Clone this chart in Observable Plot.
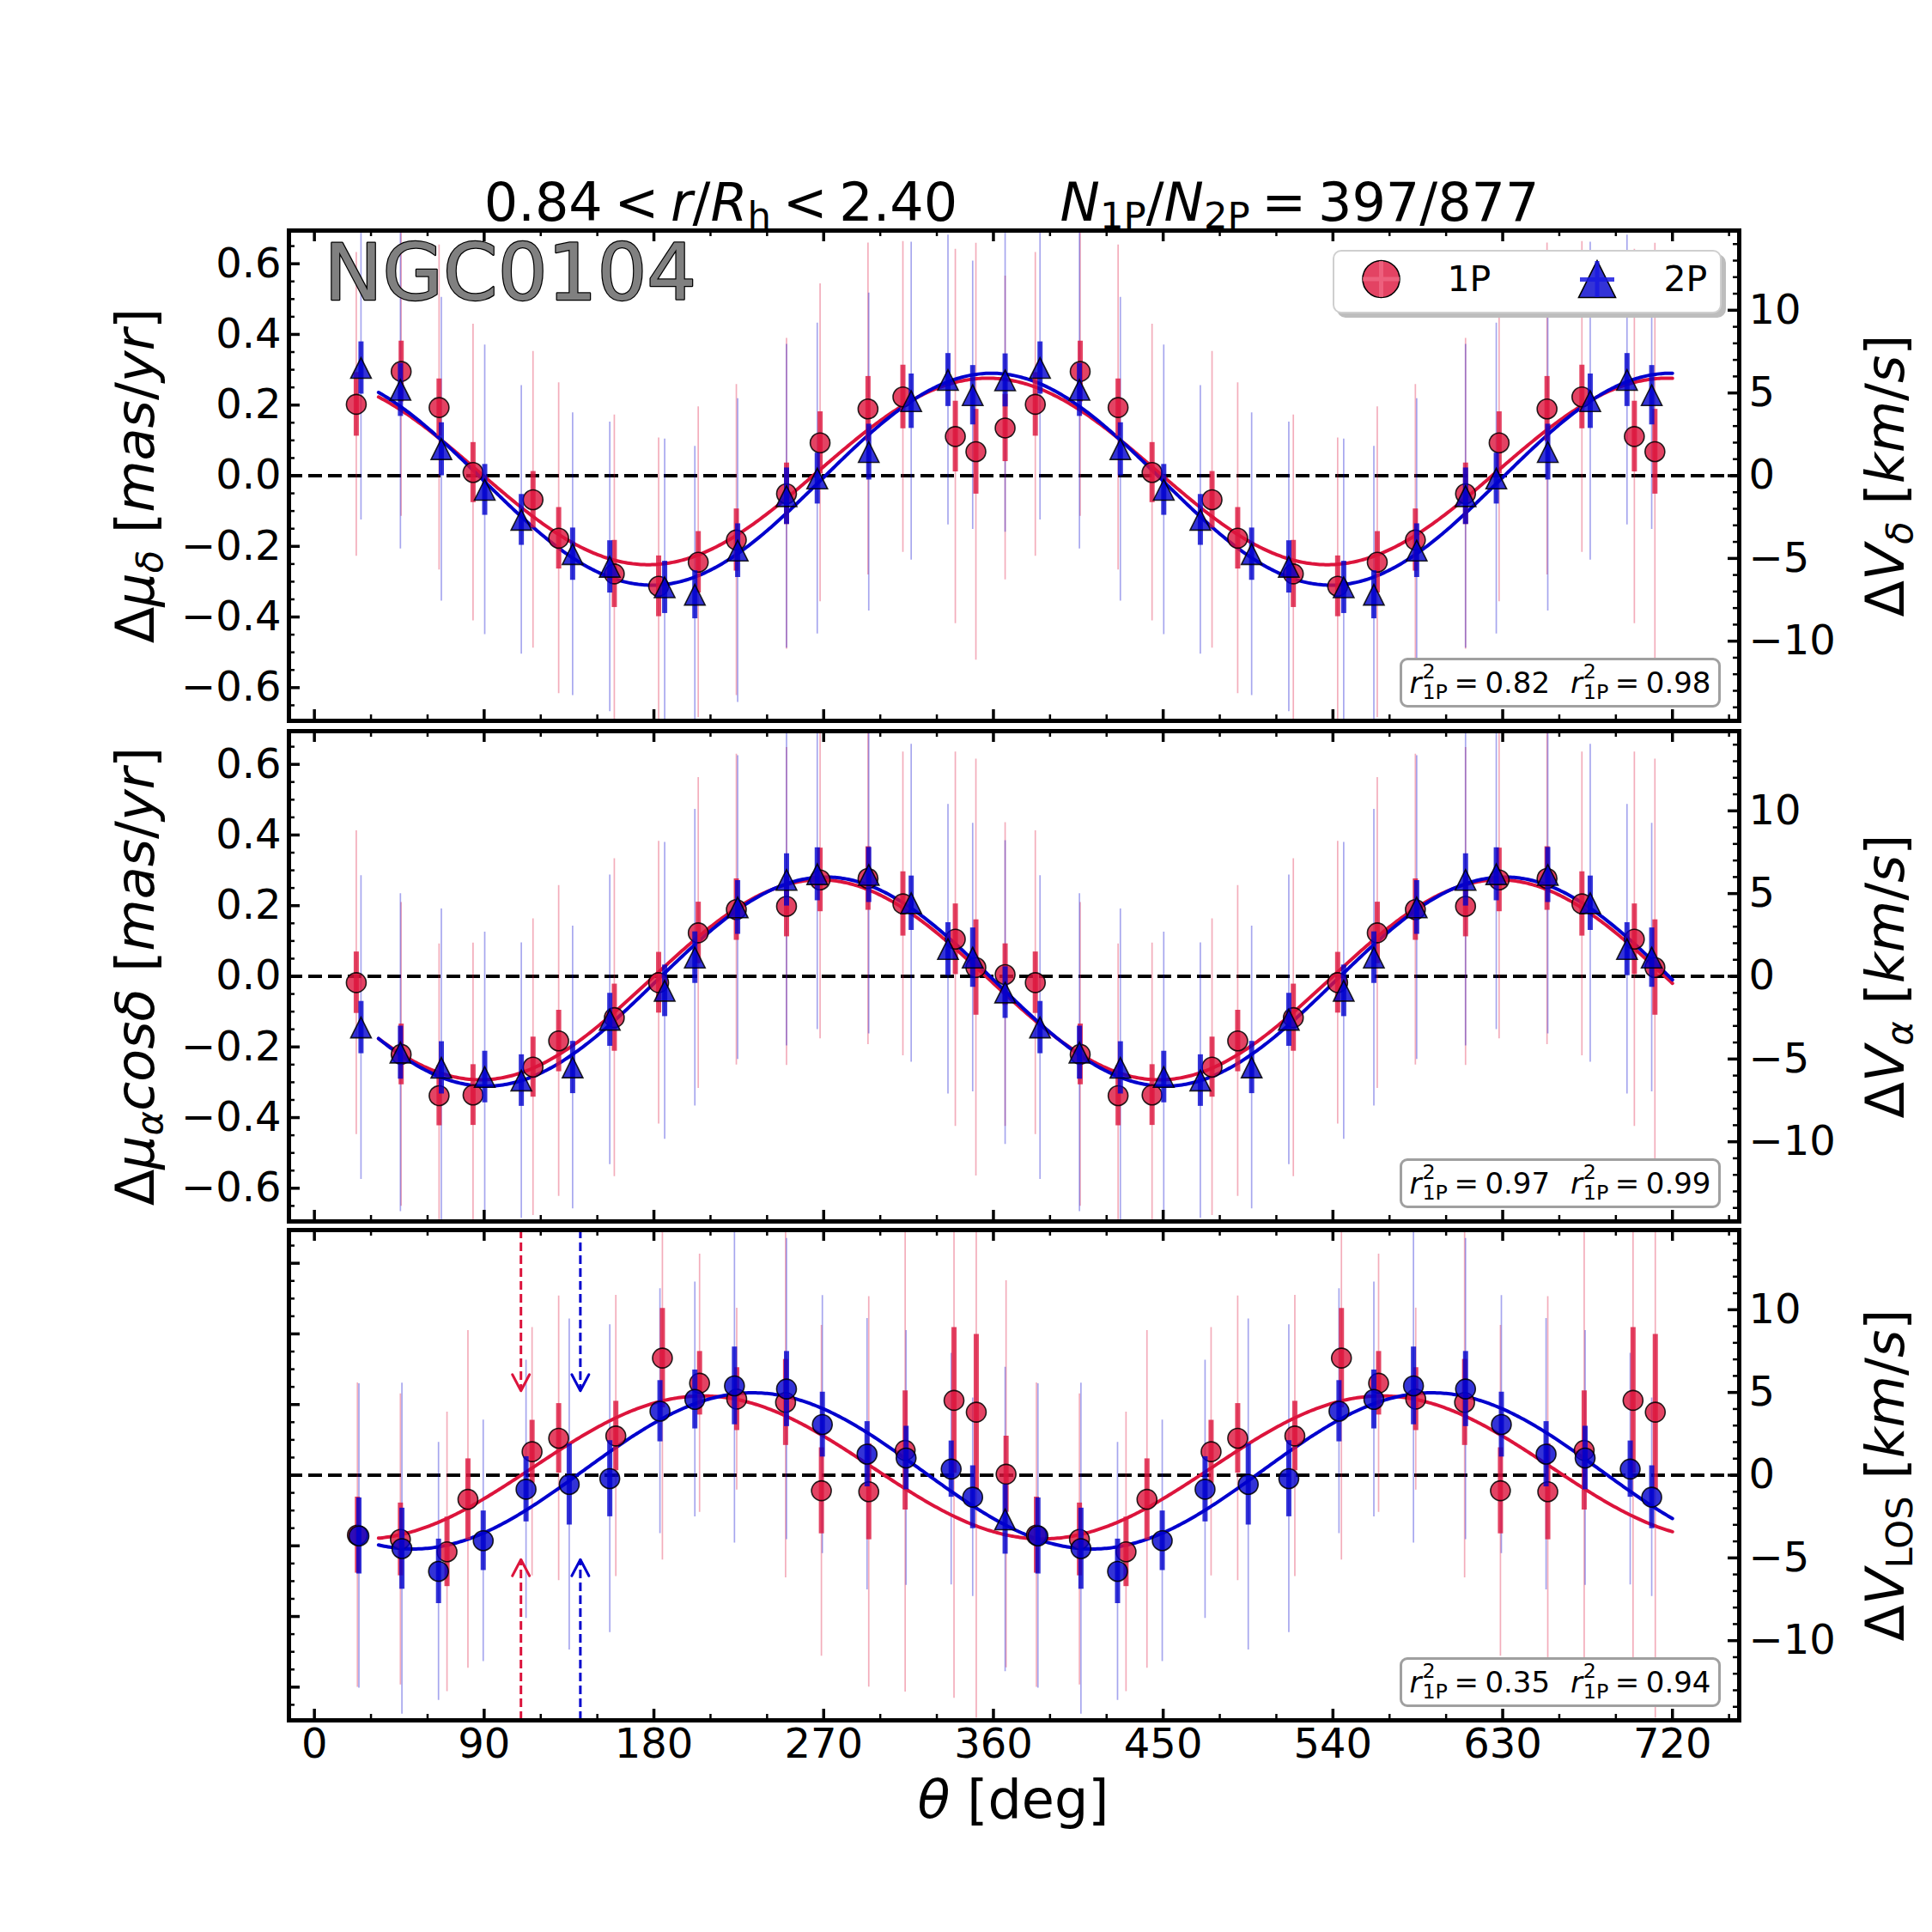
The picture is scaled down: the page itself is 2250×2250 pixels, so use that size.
<!DOCTYPE html>
<html>
<head>
<meta charset="utf-8">
<title>NGC0104 – velocity vs. position angle</title>
<script src="https://cdn.jsdelivr.net/npm/d3@7"></script>
<script src="https://cdn.jsdelivr.net/npm/@observablehq/plot@0.6"></script>
<style>
  html, body { margin: 0; padding: 0; background: #fff; }
  #fig { position: relative; width: 2250px; height: 2250px; background: #fff; overflow: hidden;
         font-family: "DejaVu Sans", sans-serif; color: #000; }
  .abs { position: absolute; white-space: nowrap; line-height: 1; }
  .panel { position: absolute; left: 0; }
  .sub { position: relative; top: 0.22em; font-size: 0.7em; }
  .sp { display: inline-block; width: 0.22em; }
  .ss { display: inline-flex; flex-direction: column; font-size: 0.7em; line-height: 1; vertical-align: 0.72em; margin-left: 0.04em; }
  .rbox { position: absolute; box-sizing: border-box; border: 3px solid #a0a0a0; border-radius: 9px;
          background: #fff; display: flex; align-items: center; justify-content: center; font-size: 34px; }
</style>
</head>
<body>
<div id="fig"></div>
<script>
// ---------------------------------------------------------------------------
// Binned mean motions along the position angle theta (first turn, 0-366 deg).
// The profile is drawn over two turns: the second turn repeats the bins of the
// first one shifted by 360 deg (the last, wrap-around bin is shown once).
// ---------------------------------------------------------------------------
const thetaPM1P = [22.2, 46.0, 66.1, 84.1, 115.9, 129.5, 159.0, 182.5, 203.5, 223.7, 250.3, 268.1, 293.5, 312.0, 339.8, 350.7, 366.2];
const thetaPM2P = [24.7, 45.6, 67.3, 90.3, 109.7, 136.9, 156.6, 185.7, 201.7, 224.4, 250.3, 266.6, 293.9, 316.4, 335.9, 349.0, 366.2];

// Delta mu_delta [mas/yr]
const dmuDec1P    = [0.202, 0.295, 0.193, 0.009, -0.068, -0.177, -0.278, -0.313, -0.245, -0.182, -0.051, 0.093, 0.189, 0.223, 0.111, 0.068, 0.135];
const dmuDec2P    = [0.305, 0.243, 0.075, -0.040, -0.125, -0.222, -0.258, -0.316, -0.337, -0.212, -0.058, -0.008, 0.067, 0.211, 0.271, 0.228, 0.270];
const dmuDecErr1P = [0.090, 0.086, 0.081, 0.085, 0.080, 0.087, 0.095, 0.086, 0.087, 0.088, 0.087, 0.088, 0.092, 0.090, 0.100, 0.120, 0.095];
const dmuDecErr2P = [0.074, 0.075, 0.075, 0.072, 0.072, 0.074, 0.074, 0.074, 0.068, 0.076, 0.080, 0.072, 0.079, 0.077, 0.075, 0.084, 0.075];
const dmuDecSig1P = [0.43, 0.41, 0.46, 0.42, 0.42, 0.44, 0.45, 0.42, 0.44, 0.44, 0.44, 0.45, 0.47, 0.44, 0.53, 0.59, 0.43];
const dmuDecSig2P = [0.43, 0.45, 0.43, 0.41, 0.38, 0.40, 0.41, 0.42, 0.42, 0.43, 0.43, 0.44, 0.45, 0.45, 0.41, 0.38, 0.43];

// Delta mu_alpha cos(delta) [mas/yr]
const dmuRA1P    = [-0.018, -0.221, -0.338, -0.336, -0.257, -0.183, -0.117, -0.018, 0.123, 0.189, 0.198, 0.273, 0.277, 0.205, 0.105, 0.025, 0.005];
const dmuRA2P    = [-0.145, -0.216, -0.259, -0.285, -0.295, -0.258, -0.123, -0.041, 0.053, 0.195, 0.273, 0.289, 0.287, 0.207, 0.077, 0.053, -0.046];
const dmuRAErr1P = [0.087, 0.086, 0.085, 0.086, 0.085, 0.087, 0.095, 0.086, 0.087, 0.087, 0.086, 0.090, 0.090, 0.091, 0.100, 0.135, 0.087];
const dmuRAErr2P = [0.074, 0.075, 0.074, 0.073, 0.073, 0.074, 0.075, 0.073, 0.073, 0.076, 0.074, 0.075, 0.078, 0.077, 0.075, 0.084, 0.073];
const dmuRASig1P = [0.43, 0.43, 0.43, 0.43, 0.42, 0.44, 0.45, 0.40, 0.44, 0.44, 0.45, 0.45, 0.47, 0.43, 0.53, 0.59, 0.43];
const dmuRASig2P = [0.43, 0.45, 0.45, 0.41, 0.39, 0.40, 0.41, 0.42, 0.42, 0.43, 0.47, 0.44, 0.45, 0.45, 0.41, 0.38, 0.43];

// Delta V_LOS [km/s]
const thetaLOS1P = [22.8, 45.6, 70.3, 81.4, 115.4, 129.5, 159.8, 184.5, 204.2, 223.9, 249.8, 268.8, 293.9, 313.2, 339.1, 350.9, 366.7];
const thetaLOS2P = [23.6, 46.4, 65.8, 89.5, 112.2, 135.1, 156.6, 183.2, 201.7, 222.7, 250.3, 269.3, 293.0, 313.7, 337.6, 349.0, 366.2];
const dvLOS1P    = [-3.62, -3.88, -4.63, -1.46, 1.42, 2.23, 2.37, 7.08, 5.56, 4.60, 4.40, -0.94, -1.00, 1.50, 4.52, 3.81, 0.06];
const dvLOS2P    = [-3.67, -4.44, -5.81, -3.96, -0.85, -0.56, -0.21, 3.87, 4.58, 5.40, 5.21, 3.06, 1.27, 1.04, 0.37, -1.33, -2.67];
const dvLOSErr1P = [2.3, 2.2, 2.1, 2.45, 1.9, 2.1, 2.1, 3.0, 1.92, 1.9, 2.6, 2.6, 2.9, 3.6, 4.4, 4.7, 2.3];
const dvLOSErr2P = [2.3, 2.45, 1.95, 1.8, 1.97, 2.45, 2.3, 1.85, 1.78, 2.35, 2.27, 1.96, 1.97, 1.92, 1.7, 1.9, 2.1];
const dvLOSSig1P = [9.2, 8.8, 8.45, 10.2, 7.5, 8.6, 8.5, 12.2, 7.8, 5.5, 10.6, 10.0, 11.8, 14.6, 18.0, 18.5, 11.7];
const dvLOSSig2P = [9.2, 10.0, 7.8, 7.3, 7.8, 10.0, 9.3, 7.4, 7.1, 9.5, 9.1, 7.8, 8.2, 7.7, 7.0, 6.0, 9.2];

// Sinusoidal fits: [offset, amplitude, phase of maximum (deg)]
const fitDec1P = [0.012, 0.264, 357];
const fitDec2P = [-0.010, 0.300, 359];
const fitRA1P  = [-0.010, 0.283, 268];
const fitRA2P  = [-0.015, 0.296, 271];
const fitLOS1P = [0.47, 4.32, 205.9];
const fitLOS2P = [0.26, 4.72, 232.4];
const fitThetaRange = [34, 720];

// Goodness of fit per panel: [1P, 2P]
const r2Dec = [0.82, 0.98];
const r2RA  = [0.97, 0.99];
const r2LOS = [0.35, 0.94];

// Rotation-axis markers in the LOS panel: theta for 1P and 2P, tip height [km/s]
const losArrowTheta = [109.5, 141.0];
const losArrowTip = 5.1;

// Axes
const xTicks = [0, 90, 180, 270, 360, 450, 540, 630, 720];
const pmTicks = [-0.6, -0.4, -0.2, 0.0, 0.2, 0.4, 0.6];
const kmsTicks = [-10, -5, 0, 5, 10];
const KMS_PER_MASYR = 21.35;     // distance-based conversion of the right-hand axes
const PM_LIMIT = 0.694;          // mas/yr half-range of every panel
const X_DOMAIN = [-13.5, 755.4];

// ---------------------------------------------------------------------------
const RED = "#dc143c", BLUE = "#0000cd";
const WIDTH = 2250, MARGIN_L = 336, MARGIN_R = 225;
const INNER_H = 571, INNER_W = WIDTH - MARGIN_L - MARGIN_R;
const MAJOR_LEN = 13, MINOR_LEN = 7;

const xMinor = d3.range(30, 751, 30).filter(v => v % 90 !== 0);
const pmMinor = d3.range(-13, 14).filter(i => i % 4 !== 0).map(i => i * 0.05);
const kmsMinor = d3.range(-14, 15).filter(v => v % 5 !== 0);

const minus = s => s.replace("-", "\u2212");

function bins(theta, v, err, sig) {
  const first = theta.map((t, i) => ({theta: t, v: v[i], err: err[i], sig: sig[i], wrap: i === theta.length - 1}));
  const second = first.filter(d => !d.wrap).map(d => ({...d, theta: d.theta + 360}));
  return first.concat(second);
}

function sine([offset, amp, phase]) {
  return d3.range(fitThetaRange[0], fitThetaRange[1] + 0.01, 1)
    .map(t => ({theta: t, v: offset + amp * Math.cos((t - phase) * Math.PI / 180)}));
}

// Matplotlib-like "^" marker: as wide and as tall as the circle's diameter
const triangleUp = {
  draw(context, size) {
    const r = Math.sqrt(size / Math.PI);
    context.moveTo(0, -r);
    context.lineTo(r, r);
    context.lineTo(-r, r);
    context.closePath();
  }
};

// Open chevron drawn at the tip of a vector (the shaft is drawn separately, dashed)
const chevron = {
  draw(context, l) {
    context.moveTo(-10, -l + 19);
    context.lineTo(0, -l);
    context.lineTo(10, -l + 19);
  }
};

function dots(rows, color, symbol, r, filter) {
  return Plot.dot(rows, {
    x: "theta", y: "v", r, symbol, filter,
    fill: color, fillOpacity: 0.8, stroke: "black", strokeOpacity: 0.85, strokeWidth: 1.6, clip: true
  });
}

function thinBars(rows, color) {
  return Plot.ruleX(rows, {x: "theta", y1: d => d.v - d.sig, y2: d => d.v + d.sig,
    stroke: color, strokeOpacity: 0.35, strokeWidth: 1.7, clip: true});
}
function thickBars(rows, color) {
  return Plot.ruleX(rows, {x: "theta", y1: d => d.v - d.err, y2: d => d.v + d.err,
    stroke: color, strokeOpacity: 0.8, strokeWidth: 6, clip: true});
}

function frameTicks(leftMajor, leftMinor, rightMajor, rightMinor) {
  const k = {stroke: "black"};
  return [
    // inward ticks on all four sides
    Plot.ruleX(xTicks, {...k, strokeWidth: 3.5, insetBottom: INNER_H - MAJOR_LEN}),
    Plot.ruleX(xTicks, {...k, strokeWidth: 3.5, insetTop: INNER_H - MAJOR_LEN}),
    Plot.ruleX(xMinor, {...k, strokeWidth: 2.5, insetBottom: INNER_H - MINOR_LEN}),
    Plot.ruleX(xMinor, {...k, strokeWidth: 2.5, insetTop: INNER_H - MINOR_LEN}),
    Plot.ruleY(leftMajor, {...k, strokeWidth: 3.5, insetRight: INNER_W - MAJOR_LEN}),
    Plot.ruleY(leftMinor, {...k, strokeWidth: 2.5, insetRight: INNER_W - MINOR_LEN}),
    Plot.ruleY(rightMajor, {...k, strokeWidth: 3.5, insetLeft: INNER_W - MAJOR_LEN}),
    Plot.ruleY(rightMinor, {...k, strokeWidth: 2.5, insetLeft: INNER_W - MINOR_LEN}),
    Plot.frame({stroke: "black", strokeWidth: 5})
  ];
}

function drawPanel(cfg) {
  const height = cfg.marginTop + INNER_H + cfg.marginBottom;
  const rows1 = cfg.rows1, rows2 = cfg.rows2;
  const marks = [
    Plot.ruleY([0], {stroke: "black", strokeWidth: 4, strokeDasharray: "16,7"}),
    thinBars(rows1, RED),
    thinBars(rows2, BLUE),
    ...(cfg.extra || []),
    Plot.line(sine(cfg.fit1), {x: "theta", y: "v", stroke: RED, strokeWidth: 4, clip: true}),
    Plot.line(sine(cfg.fit2), {x: "theta", y: "v", stroke: BLUE, strokeWidth: 4, clip: true}),
    thickBars(rows1, RED),
    dots(rows1, RED, "circle", 11.5),
    thickBars(rows2, BLUE),
    ...cfg.marks2(rows2),
    ...frameTicks(cfg.leftMajor, cfg.leftMinor, cfg.rightMajor, cfg.rightMinor),
    Plot.axisY(cfg.rightMajor, {anchor: "right", tickSize: 0, tickPadding: 11, fontSize: 48,
      tickFormat: cfg.rightFormat, label: null})
  ];
  if (cfg.leftLabels) {
    marks.push(Plot.axisY(cfg.leftMajor, {anchor: "left", tickSize: 0, tickPadding: 9, fontSize: 48,
      tickFormat: d => minus(d.toFixed(1)), label: null}));
  }
  if (cfg.xLabels) {
    marks.push(Plot.axisX(xTicks, {anchor: "bottom", tickSize: 0, tickPadding: 9, fontSize: 48,
      tickFormat: d => String(d), label: null}));
  }
  if (cfg.more) marks.push(...cfg.more);

  const svg = Plot.plot({
    width: WIDTH, height,
    marginLeft: MARGIN_L, marginRight: MARGIN_R, marginTop: cfg.marginTop, marginBottom: cfg.marginBottom,
    x: {domain: X_DOMAIN, axis: null},
    y: {domain: cfg.yDomain, axis: null},
    style: {background: "transparent", fontFamily: "DejaVu Sans", overflow: "visible", color: "black"},
    marks
  });
  const holder = document.createElement("div");
  holder.className = "panel";
  holder.style.top = cfg.top + "px";
  holder.appendChild(svg);
  document.getElementById("fig").appendChild(holder);
}

// km/s ticks expressed in mas/yr for the two proper-motion panels
const kmsInPM = v => v / KMS_PER_MASYR;
const kmsLabel = d => minus(String(Math.round(d)));

// ---- top: Delta mu_delta ----
drawPanel({
  top: 0, marginTop: 268, marginBottom: 6,
  yDomain: [-PM_LIMIT, PM_LIMIT],
  rows1: bins(thetaPM1P, dmuDec1P, dmuDecErr1P, dmuDecSig1P),
  rows2: bins(thetaPM2P, dmuDec2P, dmuDecErr2P, dmuDecSig2P),
  fit1: fitDec1P, fit2: fitDec2P,
  marks2: rows => [dots(rows, BLUE, triangleUp, 12)],
  leftMajor: pmTicks, leftMinor: pmMinor, leftLabels: true,
  rightMajor: kmsTicks.map(kmsInPM), rightMinor: kmsMinor.map(kmsInPM),
  rightFormat: d => kmsLabel(d * KMS_PER_MASYR),
  more: [Plot.text(["NGC0104"], {frameAnchor: "top-left", dx: 41, dy: 16, lineAnchor: "top", textAnchor: "start",
    fontSize: 91, fill: "#808080", stroke: "black", strokeWidth: 2.5, paintOrder: "stroke"})]
});

// ---- middle: Delta mu_alpha cos(delta) ----
drawPanel({
  top: 845, marginTop: 6, marginBottom: 4,
  yDomain: [-PM_LIMIT, PM_LIMIT],
  rows1: bins(thetaPM1P, dmuRA1P, dmuRAErr1P, dmuRASig1P),
  rows2: bins(thetaPM2P, dmuRA2P, dmuRAErr2P, dmuRASig2P),
  fit1: fitRA1P, fit2: fitRA2P,
  marks2: rows => [dots(rows, BLUE, triangleUp, 12)],
  leftMajor: pmTicks, leftMinor: pmMinor, leftLabels: true,
  rightMajor: kmsTicks.map(kmsInPM), rightMinor: kmsMinor.map(kmsInPM),
  rightFormat: d => kmsLabel(d * KMS_PER_MASYR)
});

// ---- bottom: Delta V_LOS (y in km/s) ----
const LOS_LIMIT = PM_LIMIT * KMS_PER_MASYR;
const arrowMarks = [RED, BLUE].flatMap((color, i) => {
  const t = [losArrowTheta[i]];
  const dash = {stroke: color, strokeWidth: 3, strokeDasharray: "10,5"};
  const head = {stroke: color, strokeWidth: 3, fill: "none", length: 20, anchor: "end", shape: chevron};
  return [
    Plot.ruleX(t, {x: d => d, y1: LOS_LIMIT, y2: losArrowTip, ...dash}),
    Plot.ruleX(t, {x: d => d, y1: -LOS_LIMIT, y2: -losArrowTip, ...dash}),
    Plot.vector(t, {x: d => d, y: losArrowTip, rotate: 180, ...head}),
    Plot.vector(t, {x: d => d, y: -losArrowTip, rotate: 0, ...head})
  ];
});
drawPanel({
  top: 1426, marginTop: 6, marginBottom: 247,
  yDomain: [-LOS_LIMIT, LOS_LIMIT],
  rows1: bins(thetaLOS1P, dvLOS1P, dvLOSErr1P, dvLOSSig1P),
  rows2: bins(thetaLOS2P, dvLOS2P, dvLOSErr2P, dvLOSSig2P),
  fit1: fitLOS1P, fit2: fitLOS2P,
  marks2: rows => [dots(rows, BLUE, "circle", 11.5, d => !d.wrap), dots(rows, BLUE, triangleUp, 12, d => d.wrap)],
  leftMajor: pmTicks.map(v => v * KMS_PER_MASYR), leftMinor: pmMinor.map(v => v * KMS_PER_MASYR), leftLabels: false,
  rightMajor: kmsTicks, rightMinor: kmsMinor,
  rightFormat: kmsLabel,
  xLabels: true,
  extra: arrowMarks
});

// ---------------------------------------------------------------------------
// Text: title, axis titles, legend and fit-quality boxes
// ---------------------------------------------------------------------------
const fig = document.getElementById("fig");
function addHTML(html, style, cls = "abs") {
  const el = document.createElement("div");
  el.className = cls;
  el.innerHTML = html;
  Object.assign(el.style, style);
  fig.appendChild(el);
  return el;
}
const sub = s => `<span class="sub">${s}</span>`;
const sp = `<span class="sp"></span>`;
const BASE = 0.846; // baseline offset (em) of DejaVu Sans with line-height 1

addHTML(`0.84${sp}&lt;${sp}<i>r</i>/<i>R</i>${sub("h")}${sp}&lt;${sp}2.40`,
  {left: "839.5px", top: (257 - BASE * 62) + "px", fontSize: "62px", transform: "translateX(-50%)"});
addHTML(`<i>N</i>${sub("1P")}/<i>N</i>${sub("2P")}${sp}=${sp}397/877`,
  {left: "1513.5px", top: (257 - BASE * 62) + "px", fontSize: "62px", transform: "translateX(-50%)"});

const rotated = (html, cx, cy) => addHTML(html, {left: cx + "px", top: cy + "px", fontSize: "62px",
  transform: "translate(-50%,-50%) rotate(-90deg)"});
rotated(`Δ<i>μ</i>${sub("<i>δ</i>")} [<i>mas</i>/<i>yr</i>]`, 158, 554);
rotated(`Δ<i>μ</i>${sub("<i>α</i>")}<i>cosδ</i> [<i>mas</i>/<i>yr</i>]`, 158, 1137);
rotated(`Δ<i>V</i>${sub("<i>δ</i>")} [<i>km</i>/<i>s</i>]`, 2196, 554);
rotated(`Δ<i>V</i>${sub("<i>α</i>")} [<i>km</i>/<i>s</i>]`, 2196, 1137);
rotated(`Δ<i>V</i>${sub("LOS")} [<i>km</i>/<i>s</i>]`, 2196, 1718);

addHTML(`<i>θ</i> [deg]`, {left: "1180px", top: (2117 - BASE * 62) + "px", fontSize: "62px", transform: "translateX(-50%)"});

// legend
addHTML("", {left: "1552px", top: "291px", width: "453px", height: "74px", boxSizing: "border-box",
  border: "2.5px solid #cfcfcf", borderRadius: "10px", background: "#fff", boxShadow: "5px 5px 0 #bdbdbd"});
const lg = d3.select(fig).append("svg").attr("class", "abs")
  .attr("width", 2250).attr("height", 420).style("left", "0px").style("top", "0px").style("overflow", "visible");
lg.append("circle").attr("cx", 1608.5).attr("cy", 325).attr("r", 21.5)
  .attr("fill", RED).attr("fill-opacity", 0.8).attr("stroke", "black").attr("stroke-width", 1.6);
lg.append("path").attr("d", "M1587,325H1630M1608.5,304V346")
  .attr("stroke", "#f06a86").attr("stroke-opacity", 0.75).attr("stroke-width", 5);
lg.append("path").attr("d", "M1860,303.5L1881.5,346.5L1838.5,346.5Z")
  .attr("fill", BLUE).attr("fill-opacity", 0.8).attr("stroke", "black").attr("stroke-width", 1.6);
lg.append("path").attr("d", "M1840,325.5H1880M1860,304V346")
  .attr("stroke", "#1a1ae0").attr("stroke-opacity", 0.85).attr("stroke-width", 5);
addHTML("1P", {left: "1685.5px", top: (339.5 - BASE * 41) + "px", fontSize: "41px"});
addHTML("2P", {left: "1937.5px", top: (339.5 - BASE * 41) + "px", fontSize: "41px"});

// fit-quality boxes
const r2Term = v => `<i>r</i><span class="ss"><span>2</span><span>1P</span></span>${sp}=${sp}${v.toFixed(2)}`;
function r2Box(vals, top) {
  return addHTML(`<span>${r2Term(vals[0])}<span style="display:inline-block;width:0.7em"></span>${r2Term(vals[1])}</span>`,
    {left: "1630px", top: top + "px", width: "374px", height: "58px"}, "rbox");
}
r2Box(r2Dec, 766);
r2Box(r2RA, 1349);
r2Box(r2LOS, 1930);
</script>
</body>
</html>
